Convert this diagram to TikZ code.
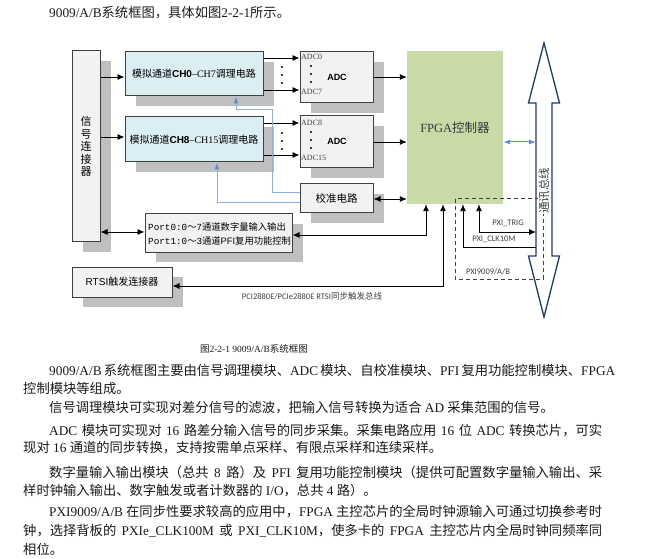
\documentclass[tikz,border=0pt]{standalone}
\usepackage{fontspec}
\setmainfont{Noto Sans CJK SC}
\newfontfamily\T{Liberation Serif}
\newfontfamily\LS{Liberation Sans}
\newfontfamily\CA{Carlito}
\newfontfamily\MO{Liberation Mono}
\usetikzlibrary{arrows.meta,shadows}
\XeTeXlinebreaklocale "zh"
\XeTeXlinebreakskip=0pt plus 2pt minus 1pt
\definecolor{boxgray}{HTML}{F2F2F2}
\definecolor{chfill}{HTML}{DAEEF3}
\definecolor{fpgafill}{HTML}{C8DAA6}
\definecolor{shadowc}{HTML}{BFBFBF}
\definecolor{blueln}{HTML}{8EB0DC}
\definecolor{bluearr}{HTML}{5B8ED6}
\definecolor{navy}{HTML}{1F3A6E}
\definecolor{edge}{HTML}{404040}
\definecolor{txt}{HTML}{1A1A1A}
\tikzset{
  box/.style={draw=edge, line width=1pt, fill=boxgray, inner sep=0pt,
    general shadow={fill=shadowc, shadow xshift=11pt, shadow yshift=-10pt}},
  arr/.style={-{Latex[length=7pt,width=6pt]}, line width=0.9pt},
  darr/.style={{Latex[length=7pt,width=6pt]}-{Latex[length=7pt,width=6pt]}, line width=0.9pt},
  bline/.style={draw=blueln, line width=1pt, -{Latex[length=7pt,width=5pt,color=bluearr]}},
  bdarr/.style={draw=bluearr, line width=1pt, {Latex[length=7pt,width=5pt]}-{Latex[length=7pt,width=5pt]}},
  body/.style={anchor=west, inner sep=0pt, text=txt, font=\fontsize{13.3}{14}\selectfont},
  small/.style={font=\CA\fontsize{8.5}{9}\selectfont, inner sep=0pt, text=edge},
}
\begin{document}
\begin{tikzpicture}[x=1pt,y=-1pt]
\useasboundingbox (0,0) rectangle (670,559);
\fill[white] (0,0) rectangle (670,559);

% top line
\node[body] (top) at (49,13) {{\T 9009/A/B}系统框图，具体如图{\T 2-2-1}所示。};

% boxes
\node[box, minimum width=28pt, minimum height=191pt, align=center,
      font=\fontsize{11}{12.5}\selectfont] (conn) at (86,146.5) {信\\号\\连\\接\\器};
\node[box, fill=chfill, minimum width=138pt, minimum height=44pt,
      font=\fontsize{10}{12}\selectfont] (ch1) at (194,74) {模拟通道{\LS\bfseries CH0}{\T –CH7}调理电路};
\node[box, fill=chfill, minimum width=138pt, minimum height=45pt,
      font=\fontsize{10}{12}\selectfont] (ch2) at (194,139.5) {模拟通道{\LS\bfseries CH8}{\T –CH15}调理电路};
\node[box, minimum width=73pt, minimum height=51pt] (adc1) at (336.5,77.5) {};
\node[box, minimum width=73pt, minimum height=52pt] (adc2) at (336.5,142) {};
\node[fill=fpgafill, minimum width=96pt, minimum height=153pt, inner sep=0pt] (fpga) at (455,127.5) {};
\node[text=edge!90!black, font=\fontsize{12.5}{13}\selectfont] (fpgat) at (455,128) {{\T FPGA}控制器};
\node[box, minimum width=73pt, minimum height=29pt, font=\fontsize{10.5}{12}\selectfont] (cal) at (336.5,198.5) {校准电路};
\node[box, minimum width=147pt, minimum height=38pt] (port) at (218.5,233) {};
\node[anchor=west, align=left, inner sep=0pt, font=\fontsize{9.3}{14}\selectfont] (portt) at (148,234)
  {{\MO Port0:0}～{\MO 7}通道数字量输入输出\\{\MO Port1:0}～{\MO 3}通道{\LS PFI}复用功能控制};
\node[box, minimum width=100pt, minimum height=30pt, font=\fontsize{10}{12}\selectfont] (rtsi) at (122,282) {{\LS RTSI}触发连接器};

% ADC labels
\node[anchor=west, inner sep=0pt, font=\T\fontsize{8}{8}\selectfont, text=edge] (a0) at (301,57) {ADC0};
\node[anchor=west, inner sep=0pt, font=\T\fontsize{8}{8}\selectfont, text=edge] (a7) at (301,92) {ADC7};
\node[anchor=west, inner sep=0pt, font=\T\fontsize{8}{8}\selectfont, text=edge] (a8) at (301,123) {ADC8};
\node[anchor=west, inner sep=0pt, font=\T\fontsize{8}{8}\selectfont, text=edge] (a15) at (301,158) {ADC15};
\node[font=\LS\bfseries\fontsize{9}{9}\selectfont] (adct1) at (337,77) {ADC};
\node[font=\LS\bfseries\fontsize{9}{9}\selectfont] (adct2) at (337,141) {ADC};
\foreach \yy in {66,74,82,132,140,148}{
  \fill (311,\yy) circle (1.1pt);
  \fill (282,\yy+1) circle (1.1pt);
}

% bus arrow
\draw[navy, line width=1.3pt, fill=white, line join=miter]
  (544,43) -- (559.5,103) -- (552,103) -- (552,256) -- (559.5,256) -- (544,317)
  -- (528.5,256) -- (536,256) -- (536,103) -- (528.5,103) -- cycle;
\coordinate (busA) at (536,142);
\coordinate (busT) at (536,232);
\coordinate (busC) at (536,247);

% dashed PXI region
\draw[edge, line width=1pt, dash pattern=on 4pt off 3pt] (455,199) rectangle (543,279);
\node[rotate=90, fill=white, inner sep=0.5pt, font=\fontsize{11.5}{12}\selectfont, text=edge] (bust) at (544,191) {通讯总线};

% connectors
\draw[arr] (conn.east |- 0,77) -- (ch1.west |- 0,77);
\draw[arr] (conn.east |- 0,137) -- (ch2.west |- 0,137);
\draw[arr] (ch1.east |- 0,58) -- (adc1.west |- 0,58);
\draw[arr] (ch1.east |- 0,90) -- (adc1.west |- 0,90);
\draw[arr] (ch2.east |- 0,123) -- (adc2.west |- 0,123);
\draw[arr] (ch2.east |- 0,155) -- (adc2.west |- 0,155);
\draw[arr] (adc1.east |- 0,77) -- (fpga.west |- 0,77);
\draw[arr] (adc2.east |- 0,142) -- (fpga.west |- 0,142);
\draw[darr] (cal.east |- 0,199) -- (fpga.west |- 0,199);
\draw[darr] (conn.east |- 0,232) -- (port.west |- 0,232);
\draw[darr] (port.east |- 0,235) -- (426,235) -- (426,0 |- fpga.south);
\draw[darr] (rtsi.east |- 0,286) -- (443,286) -- (443,0 |- fpga.south);
\draw[arr] (busC) -- (463,247) -- (463,0 |- fpga.south);
\draw[darr] (479,0 |- fpga.south) -- (479,232) -- (busT);
\draw[bline] (cal.west |- 0,193) -- (272,193) -- (272,110) -- (236,110) -- (236,0 |- ch1.south);
\draw[bline] (cal.west |- 0,203) -- (217,203) -- (217,0 |- ch2.south);
\draw[bdarr] (fpga.east |- busA) -- (busA);

% labels
\node[small] (ltrig) at (508,223) {PXI\_TRIG};
\node[small] (lclk) at (494,239) {PXI\_CLK10M};
\node[small] (lpxi) at (488,272) {PXI9009/A/B};
\node[font=\fontsize{8.5}{9}\selectfont, inner sep=0pt, text=edge] (lrtsi) at (312,296) {{\CA PCI2880E/PCIe2880E RTSI}同步触发总线};

% caption
\node[font=\fontsize{9.5}{10}\selectfont, inner sep=0pt, text=txt] (cap) at (254,349) {图{\T 2-2-1 9009/A/B}系统框图};

% body text
\node[body] (l1) at (49,370) {\makebox[553pt][s]{{\T 9009/A/B }系统框图主要由信号调理模块、{\T ADC }模块、自校准模块、{\T PFI }复用功能控制模块、{\T FPGA}}};
\node[body] (l2) at (23,388) {控制模块等组成。};
\node[body] (l3) at (49,408) {信号调理模块可实现对差分信号的滤波，把输入信号转换为适合{\T\ AD }采集范围的信号。};
\node[body] (l4) at (49,431) {\makebox[553pt][s]{{\T ADC }模块可实现对{\T\ 16 }路差分输入信号的同步采集。采集电路应用{\T\ 16 }位{\T\ ADC }转换芯片，可实}};
\node[body] (l5) at (23,448) {现对{\T\ 16 }通道的同步转换，支持按需单点采样、有限点采样和连续采样。};
\node[body] (l6) at (49,472) {\makebox[553pt][s]{数字量输入输出模块（总共{\T\ 8 }路）及{\T\ PFI }复用功能控制模块（提供可配置数字量输入输出、采}};
\node[body] (l7) at (23,491) {样时钟输入输出、数字触发或者计数器的{\T\ I/O}，总共{\T\ 4 }路）。};
\node[body] (l8) at (49,512) {\makebox[553pt][s]{{\T PXI9009/A/B }在同步性要求较高的应用中，{\T FPGA }主控芯片的全局时钟源输入可通过切换参考时}};
\node[body] (l9) at (23,531) {\makebox[579pt][s]{钟，选择背板的{\T\ PXIe\_CLK100M }或{\T\ PXI\_CLK10M}，使多卡的{\T\ FPGA }主控芯片内全局时钟同频率同}};
\node[body] (l10) at (23,549) {相位。};
\end{tikzpicture}
\end{document}
